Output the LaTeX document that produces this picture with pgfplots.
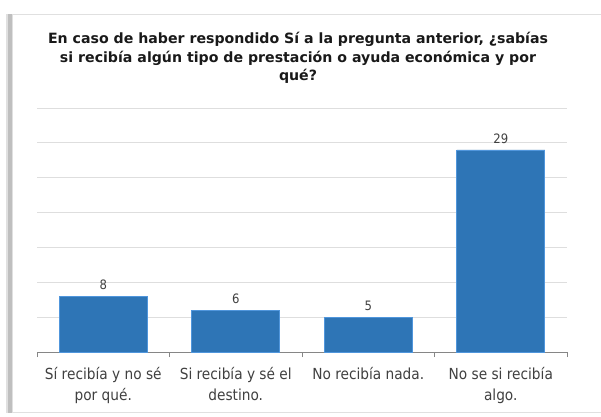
\documentclass[border=0pt]{standalone}
\usepackage{pgfplots}
\pgfplotsset{compat=1.18}
\usepackage{fontspec}
\setmainfont{DejaVu Sans}
\newfontfamily\condfont{DejaVu Sans Condensed}
\definecolor{barblue}{RGB}{46,117,182}
\definecolor{baredge}{RGB}{80,150,220}
\definecolor{txt}{RGB}{64,64,64}
\definecolor{gridc}{RGB}{222,222,222}
\definecolor{axc}{RGB}{134,134,134}
\begin{document}
\begin{tikzpicture}[x=1bp,y=1bp]
\path[use as bounding box] (0,0) rectangle (601,416);
\fill[white] (0,0) rectangle (601,416);
\begin{scope}
\clip (0,0) rectangle (601,416);
\fill[black!25] (8,3) rectangle (13,402);
\fill[black!12] (6,3) rectangle (8,402);
\draw[black!12, line width=1bp] (12,4) rectangle (620,401);
\end{scope}
\node[align=center, font=\fontsize{14.2}{18.5}\selectfont\bfseries, text=black!90] at (298,358)
  {En caso de haber respondido Sí a la pregunta anterior, ¿sabías\\si recibía algún tipo de prestación o ayuda económica y por\\qué?};
\begin{axis}[
  at={(37bp,64bp)}, anchor=south west,
  scale only axis, width=530bp, height=244bp,
  xmin=-0.5, xmax=3.5, ymin=0, ymax=35,
  axis x line*=bottom, axis y line*=left,
  x axis line style={draw=axc, line width=0.8bp, -},
  y axis line style={draw=none},
  xtick={0,1,2,3},
  xticklabels={{Sí recibía y no sé\\por qué.},{Si recibía y sé el\\destino.},{No recibía nada.},{No se si recibía\\algo.}},
  xticklabel style={align=center, font=\condfont\fontsize{15.3}{20.5}\selectfont, text=txt, yshift=-8bp},
  major x tick style={draw=none},
  minor xtick={-0.5,0.5,1.5,2.5,3.5},
  minor x tick style={draw=axc, line width=0.8bp},
  tick align=outside, minor tick length=5bp,
  ytick={5,10,...,35}, ymajorgrids,
  ytick style={draw=none},
  grid style={draw=gridc, line width=0.8bp},
  yticklabels={},
  ybar, bar width=88bp,
  nodes near coords,
  every node near coord/.append style={font=\condfont\fontsize{13}{14}\selectfont, text=txt, yshift=3bp, /pgf/number format/assume math mode=true},
  clip=false,
]
\addplot[fill=barblue, draw=baredge, line width=0.6bp] coordinates {(0,8) (1,6) (2,5) (3,29)};
\end{axis}
\end{tikzpicture}
\end{document}
